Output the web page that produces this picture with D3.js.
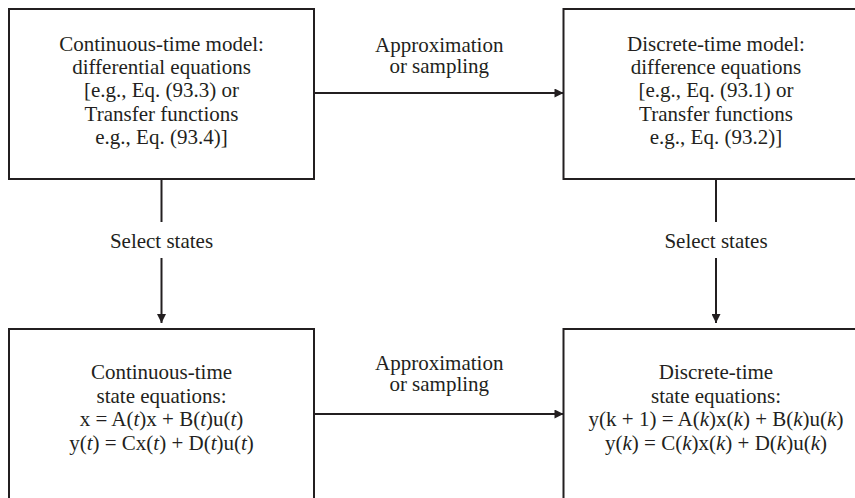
<!DOCTYPE html>
<html>
<head>
<meta charset="utf-8">
<script src="https://cdn.jsdelivr.net/npm/d3@7"></script>
<style>
  body { margin: 0; background: #fff; }
  svg { display: block; }
  text { font-family: "Liberation Serif", "Times New Roman", serif; fill: #231f20; }
</style>
</head>
<body>
<div id="diagram"></div>
<script>
// columns and rows of the block diagram
const columns = ["continuous", "discrete"];
const rows = ["model", "state"];

// text of each box, *...* marks italic
const modelLines = {
    continuous: ["Continuous-time model:", "differential equations", "[e.g., Eq. (93.3) or", "Transfer functions", "e.g., Eq. (93.4)]"],
    discrete: ["Discrete-time model:", "difference equations", "[e.g., Eq. (93.1) or", "Transfer functions", "e.g., Eq. (93.2)]"]
};
const stateLines = {
    continuous: ["Continuous-time", "state equations:", "x = A(*t*)x + B(*t*)u(*t*)", "y(*t*) = Cx(*t*) + D(*t*)u(*t*)"],
    discrete: ["Discrete-time", "state equations:", "y(k + 1) = A(*k*)x(*k*) + B(*k*)u(*k*)", "y(*k*) = C(*k*)x(*k*) + D(*k*)u(*k*)"]
};

// arrow labels
const horizontalLabel = ["Approximation", "or sampling"];
const verticalLabel = "Select states";

const width = 855, height = 498;
const boxW = 305;
const lineH = 23.4;
const ink = "#231f20";

const svg = d3.select("#diagram")
    .append("svg")
    .attr("width", width)
    .attr("height", height);

// Scales for placing the blocks
const xScale = d3.scalePoint().domain(columns).range([161.5, 716]);
const yScale = d3.scalePoint().domain(rows).range([9, 329]);
const boxH = { model: 170, state: 200 };

// arrowhead marker
svg.append("defs").append("marker")
    .attr("id", "arrow")
    .attr("viewBox", "0 0 10 10")
    .attr("refX", 10)
    .attr("refY", 5)
    .attr("markerUnits", "userSpaceOnUse")
    .attr("markerWidth", 11)
    .attr("markerHeight", 9)
    .attr("orient", "auto")
    .append("path")
    .attr("d", "M0,0 L10,5 L0,10 Z")
    .attr("fill", ink);

// Boxes
const boxes = [];
rows.forEach(r => columns.forEach(c => boxes.push({ row: r, col: c })));

svg.selectAll(".box")
    .data(boxes)
    .enter()
    .append("rect")
    .attr("class", "box")
    .attr("x", d => xScale(d.col) - boxW / 2)
    .attr("y", d => yScale(d.row))
    .attr("width", boxW)
    .attr("height", d => boxH[d.row])
    .attr("fill", "none")
    .attr("stroke", ink)
    .attr("stroke-width", 2);

// write a line with italic parts
function addLine(textSel, str, x, dy) {
    const line = textSel.append("tspan").attr("x", x).attr("dy", dy);
    str.split("*").forEach((part, i) => {
        if (part === "") return;
        line.append("tspan")
            .attr("font-style", i % 2 === 1 ? "italic" : null)
            .text(part);
    });
}

// Box text
boxes.forEach(b => {
    const lines = b.row === "model" ? modelLines[b.col] : stateLines[b.col];
    const firstBase = b.row === "model" ? 50.5 : 379.3;
    const cx = xScale(b.col);
    const t = svg.append("text")
        .attr("text-anchor", "middle")
        .attr("font-size", 21)
        .attr("y", firstBase);
    lines.forEach((l, i) => addLine(t, l, cx, i === 0 ? 0 : lineH));
});

// Horizontal arrows (continuous -> discrete)
const arrowY = { model: 93, state: 414 };
const labelY = { model: 52, state: 370 };
const midX = (xScale("continuous") + boxW / 2 + xScale("discrete") - boxW / 2) / 2 + 0.5;

rows.forEach(r => {
    svg.append("line")
        .attr("x1", xScale("continuous") + boxW / 2)
        .attr("x2", xScale("discrete") - boxW / 2)
        .attr("y1", arrowY[r])
        .attr("y2", arrowY[r])
        .attr("stroke", ink)
        .attr("stroke-width", 2)
        .attr("marker-end", "url(#arrow)");

    const t = svg.append("text")
        .attr("text-anchor", "middle")
        .attr("font-size", 21)
        .attr("y", labelY[r]);
    horizontalLabel.forEach((l, i) => addLine(t, l, midX, i === 0 ? 0 : 21));
});

// Vertical arrows (model -> state), broken around the label
const vTop = yScale("model") + boxH.model;
const vBottom = yScale("state");
const vLabelY = 248;

columns.forEach(c => {
    const x = xScale(c);
    svg.append("line")
        .attr("x1", x).attr("x2", x)
        .attr("y1", vTop).attr("y2", 222)
        .attr("stroke", ink)
        .attr("stroke-width", 2);
    svg.append("line")
        .attr("x1", x).attr("x2", x)
        .attr("y1", 258).attr("y2", vBottom - 6)
        .attr("stroke", ink)
        .attr("stroke-width", 2)
        .attr("marker-end", "url(#arrow)");
    svg.append("text")
        .attr("text-anchor", "middle")
        .attr("font-size", 21)
        .attr("x", x)
        .attr("y", vLabelY)
        .text(verticalLabel);
});
</script>
</body>
</html>
